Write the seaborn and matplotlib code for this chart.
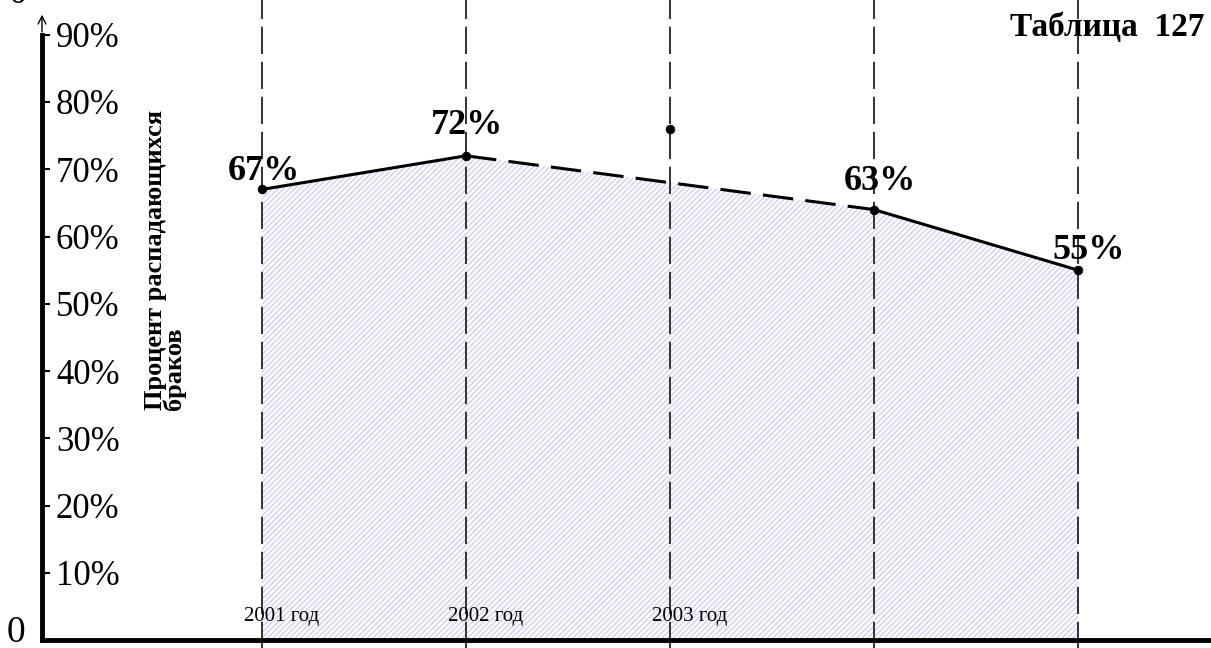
import matplotlib
matplotlib.use("Agg")
import matplotlib.pyplot as plt
from matplotlib import rcParams
import seaborn as sns
import pandas as pd

# values
years = [2001, 2002, 2003, 2004, 2005]
line_values = [67, 72, 68, 64, 55]
point_years = [2001, 2002, 2004, 2005]
point_values = [67, 72, 64, 55]
point_labels = ["67%", "72%", "63%", "55%"]
stray_year = [2003]
stray_value = [76]
year_labels = ["2001 год", "2002 год", "2003 год"]
ytick_values = [10, 20, 30, 40, 50, 60, 70, 80, 90]
ytick_labels = ["10%", "20%", "30%", "40%", "50%", "60%", "70%", "80%", "90%"]

# label offsets in points (dx, dy)
LABEL_OFFSETS = [(1, 13), (1, 22), (4, 20), (8, 14)]

sns.set_style("white")
rcParams["font.family"] = ["Liberation Serif", "DejaVu Serif"]
rcParams["text.color"] = "black"
rcParams["ytick.color"] = "black"
rcParams["axes.edgecolor"] = "black"

W, H = 1211, 648
fig = plt.figure(figsize=(W / 100, H / 100), dpi=100)
ax = fig.add_axes([42 / W, 8 / H, 1 - 42 / W, 1 - 8 / H])

step = 204.0
x_left = 2001 - 220 / step
ax.set_xlim(x_left, x_left + (W - 42) / step)
px_per_pct = 6.725
ax.set_ylim(0, (H - 8) / px_per_pct)

df = pd.DataFrame({"year": years, "value": line_values})
ax.fill_between(df["year"], 0, df["value"], facecolor="white",
                edgecolor="#cfcff3", hatch="//////", linewidth=0, zorder=1)

for yr in years:
    ax.axvline(yr, ymin=-0.015, ymax=1, color="#333333", lw=1.4,
               dashes=(14, 4), clip_on=False, zorder=2)

solid1 = df[df["year"].isin([2001, 2002])]
dashed = df[df["year"].isin([2002, 2003, 2004])]
solid2 = df[df["year"].isin([2004, 2005])]
sns.lineplot(data=solid1, x="year", y="value", color="black", lw=2.2, ax=ax, zorder=3)
sns.lineplot(data=solid2, x="year", y="value", color="black", lw=2.2, ax=ax, zorder=3)
ax.plot(dashed["year"], dashed["value"], color="black", lw=2.2, dashes=(10, 4), zorder=3)

sns.scatterplot(x=point_years + stray_year, y=point_values + stray_value,
                color="black", s=40, ax=ax, zorder=4, edgecolor="black")

for yr, v, lab, (dx, dy) in zip(point_years, point_values, point_labels, LABEL_OFFSETS):
    ax.annotate(lab, xy=(yr, v), xytext=(dx, dy), textcoords="offset points",
                ha="center", va="center", fontsize=26, fontweight="bold", zorder=5)

for yr, lab in zip(years, year_labels):
    ax.annotate(lab, xy=(yr, 0), xytext=(-13, 17), textcoords="offset points",
                ha="left", va="center", fontsize=15)

# axes styling
for side in ["top", "right"]:
    ax.spines[side].set_visible(False)
ax.spines["left"].set_linewidth(3.5)
ax.spines["bottom"].set_linewidth(3.5)
ax.spines["left"].set_bounds(0, 90)
ax.annotate("", xy=(x_left, 93.4), xytext=(x_left, 90),
            arrowprops=dict(arrowstyle="->", lw=1.0, color="black",
                            mutation_scale=14), annotation_clip=False)

ax.set_xticks([])
ax.set_yticks(ytick_values, ytick_labels)
ax.tick_params(axis="y", direction="in", length=6, width=1.5, pad=-10,
               labelsize=25, left=True)
for lab in ax.get_yticklabels():
    lab.set_horizontalalignment("left")
ax.set_xlabel("")
ax.set_ylabel("")

fig.text(16 / W, 1 - 633 / H, "0", fontsize=27, ha="center", va="center")
fig.text(18 / W, 1 + 6 / H, "0", fontsize=27, ha="center", va="center")
fig.text(1205 / W, 1 - 28 / H, "Таблица  127", fontsize=24, fontweight="bold",
         ha="right", va="center")
fig.text(165 / W, 1 - 410 / H, "Процент распадающихся\nбраков", rotation=90,
         fontsize=19, fontweight="bold", ha="center", va="bottom",
         multialignment="left", linespacing=0.8)

fig.savefig("out.png", dpi=100)
